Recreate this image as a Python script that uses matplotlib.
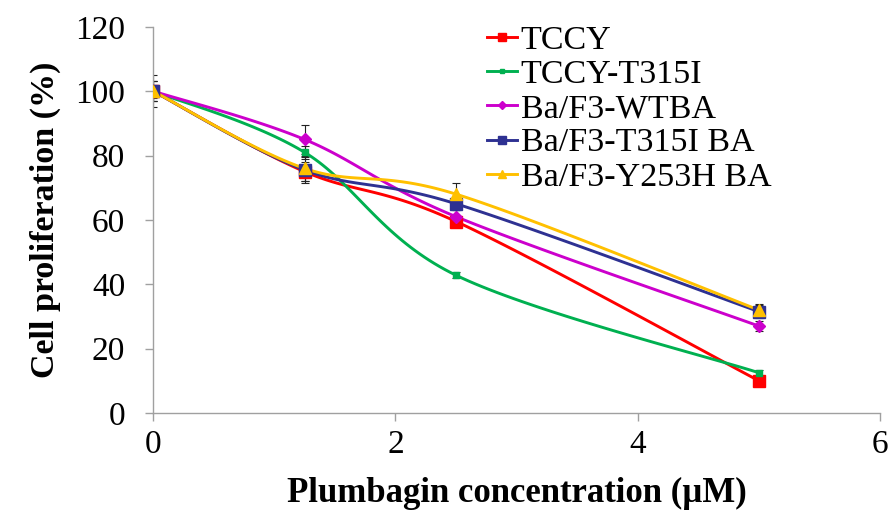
import numpy as np
import matplotlib
matplotlib.use("Agg")
import matplotlib.pyplot as plt

plt.rcParams["font.family"] = ["Liberation Serif", "DejaVu Serif"]

conc = [0, 1.25, 2.5, 5]
names = ["TCCY", "TCCY-T315I", "Ba/F3-WTBA", "Ba/F3-T315I BA", "Ba/F3-Y253H BA"]
tccy = [100, 75, 59.5, 10]
tccy_t315i = [100, 81, 42.8, 12.5]
wtba = [100, 85, 61, 27]
t315i_ba = [100, 75.5, 65, 31.5]
y253h_ba = [100, 76, 68, 32]
err_tccy = [5, 3, 1.5, 1]
err_tccy_t315i = [2, 2, 1, 1]
err_wtba = [3, 4.5, 2, 1.5]
err_t315i_ba = [3, 4, 2, 2]
err_y253h_ba = [3, 4, 3.5, 2]

series = [tccy, tccy_t315i, wtba, t315i_ba, y253h_ba]
errors = [err_tccy, err_tccy_t315i, err_wtba, err_t315i_ba, err_y253h_ba]
colors = ["#FF0000", "#00B050", "#CC00CC", "#2E3192", "#FFC000"]
markers = ["s", "s", "D", "s", "^"]
msizes = [8, 5, 6, 8, 9]


def smooth(xs, ys, n=40):
    # Excel-style smoothed line: Catmull-Rom as cubic Bezier segments
    p = np.column_stack([xs, ys]).astype(float)
    out = []
    for i in range(len(p) - 1):
        p0 = p[i - 1] if i > 0 else p[i]
        p3 = p[i + 2] if i + 2 < len(p) else p[i + 1]
        c1 = p[i] + (p[i + 1] - p0) / 6
        c2 = p[i + 1] - (p3 - p[i]) / 6
        t = np.linspace(0, 1, n)[:, None]
        b = ((1 - t) ** 3 * p[i] + 3 * (1 - t) ** 2 * t * c1
             + 3 * (1 - t) * t ** 2 * c2 + t ** 3 * p[i + 1])
        out.append(b if i == 0 else b[1:])
    b = np.vstack(out)
    return b[:, 0], b[:, 1]


fig = plt.figure(figsize=(8.9, 5.15), dpi=100)
ax = fig.add_axes([0.172, 0.198, 0.817, 0.75])

for ys, es, c, m, ms, name in zip(series, errors, colors, markers, msizes, names):
    sx, sy = smooth(conc, ys)
    ax.plot(sx, sy, color=c, lw=2.1, zorder=3)
    ax.errorbar(conc, ys, yerr=es, fmt="none", ecolor="#222222",
                elinewidth=0.8, capsize=3, capthick=0.8, zorder=2)
    ax.plot(conc, ys, ls="none", marker=m, ms=ms, color=c, zorder=4)
    ax.plot([], [], color=c, lw=2.1, marker=m, ms=ms * 0.7, label=name)

ax.set_xlim(0, 6)
ax.set_ylim(0, 120)
ax.set_xticks([0, 2, 4, 6])
ax.set_yticks(range(0, 121, 20))
for s in ["top", "right"]:
    ax.spines[s].set_visible(False)
for s in ["left", "bottom"]:
    ax.spines[s].set_color("#A0A0A0")
    ax.spines[s].set_linewidth(1.0)
ax.tick_params(direction="out", length=6, width=1.0, color="#A0A0A0",
               labelsize=24)
ax.tick_params(axis="x", pad=6)
ax.tick_params(axis="y", pad=14)
ax.set_xlabel("Plumbagin concentration (\u00b5M)", fontsize=25, fontweight="bold",
              labelpad=12)
ax.set_ylabel("Cell proliferation (%)", fontsize=24.5, fontweight="bold",
              labelpad=10)
for lbl in ax.get_xticklabels() + ax.get_yticklabels():
    lbl.set_clip_on(False)

ax.legend(loc="upper left", bbox_to_anchor=(0.44, 1.04), frameon=False,
          fontsize=24.5, handlelength=0.9, handletextpad=0.1, labelspacing=0.1,
          borderaxespad=0)

fig.savefig("out.png", dpi=100)
